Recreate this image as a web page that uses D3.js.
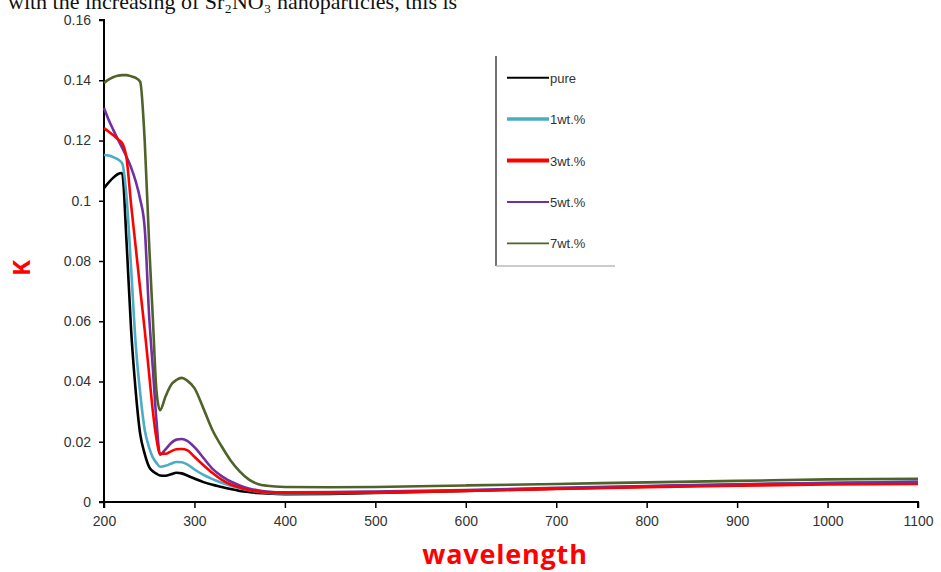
<!DOCTYPE html>
<html><head><meta charset="utf-8">
<script src="https://cdn.jsdelivr.net/npm/d3@7"></script>
<style>body{margin:0;background:#fff;overflow:hidden}svg{display:block}</style>
</head><body>
<script>
const wavelengths = [200,205,210,215,220,225,230,235,240,245,250,254,258,262,268,274,280,286,292,300,310,320,330,340,350,360,370,380,400,450,500,600,700,800,900,1000,1100];
const pure  = [.1042,.1060,.1076,.1088,.1092,.0860,.0570,.0370,.0226,.0160,.0116,.0102,.0094,.0088,.0087,.0092,.0097,.0095,.0088,.0078,.0066,.0057,.0050,.0043,.0037,.0033,.0030,.0028,.0026,.0027,.0030,.0037,.0044,.0051,.0057,.0062,.0065];
const wt1   = [.1152,.1150,.1145,.1138,.1125,.1010,.0775,.0526,.0362,.0240,.0180,.0148,.0130,.0117,.0120,.0127,.0133,.0132,.0125,.0108,.0090,.0076,.0064,.0054,.0046,.0039,.0034,.0031,.0028,.0029,.0032,.0038,.0045,.0052,.0058,.0064,.0068];
const wt3   = [.1241,.1230,.1218,.1205,.1192,.1140,.0986,.0848,.0707,.0571,.0422,.0302,.0210,.0160,.0160,.0168,.0175,.0176,.0172,.0150,.0122,.0096,.0074,.0058,.0048,.0040,.0035,.0032,.0030,.0030,.0032,.0037,.0043,.0049,.0054,.0058,.0060];
const wt5   = [.1308,.1270,.1237,.1206,.1176,.1145,.1110,.1065,.1005,.0910,.0614,.0443,.0270,.0157,.0175,.0195,.0207,.0209,.0203,.0182,.0146,.0110,.0086,.0068,.0055,.0045,.0039,.0035,.0032,.0033,.0035,.0040,.0047,.0053,.0059,.0063,.0067];
const wt7   = [.1391,.1402,.1410,.1415,.1417,.1417,.1413,.1408,.1395,.1200,.0850,.0610,.0370,.0305,.0350,.0388,.0405,.0412,.0403,.0378,.0310,.0238,.0185,.0138,.0102,.0075,.0060,.0054,.0050,.0049,.0050,.0055,.0060,.0065,.0070,.0075,.0077];
const seriesNames = ["pure","1wt.%","3wt.%","5wt.%","7wt.%"];
const seriesColors = ["#000000","#4BACC6","#FF0000","#7030A0","#4F6228"];
const yTicks = [0,0.02,0.04,0.06,0.08,0.1,0.12,0.14,0.16];
const yTickLabels = ["0","0.02","0.04","0.06","0.08","0.1","0.12","0.14","0.16"];
const xTicks = [200,300,400,500,600,700,800,900,1000,1100];

const W = 941, H = 572;
const svg = d3.select("body").append("svg").attr("width", W).attr("height", H);

// caption from the source document (cut by the top edge in the reference)
svg.append("text").attr("x", 8).attr("y", 9)
  .attr("font-family", "Liberation Serif, serif").attr("font-size", 22).attr("fill", "#111")
  .text("with the increasing of Sr\u2082NO\u2083 nanoparticles, this is");

const x = d3.scaleLinear().domain([200, 1100]).range([104, 918]);
const y = d3.scaleLinear().domain([0, 0.16]).range([502, 20]);

const yAxis = svg.append("g").attr("transform", "translate(104,0)")
  .call(d3.axisLeft(y).tickValues(yTicks).tickFormat((d, i) => yTickLabels[i]).tickSize(5).tickPadding(8));
yAxis.select(".domain").attr("stroke", "#000").attr("stroke-width", 2).attr("d", "M-5,20H0V502H-5");
const xAxis = svg.append("g").attr("transform", "translate(0,502)")
  .call(d3.axisBottom(x).tickValues(xTicks).tickFormat(d3.format("d")).tickSize(6).tickPadding(8));
xAxis.select(".domain").attr("stroke", "#000").attr("stroke-width", 2).attr("d", "M104,6V0H918V6");
[yAxis, xAxis].forEach(a => {
  a.selectAll(".tick line").attr("stroke", "#000").attr("stroke-width", 1.5);
  a.selectAll(".tick text").attr("font-family", "Liberation Sans, Arial, sans-serif").attr("font-size", 14).attr("fill", "#333");
});

const allSeries = [pure, wt1, wt3, wt5, wt7];
const line = d3.line().x((d, i) => x(wavelengths[i])).y(d => y(d)).curve(d3.curveMonotoneX);
[0,1,3,2,4].forEach(k => {
  svg.append("path").datum(allSeries[k]).attr("d", line)
    .attr("fill", "none").attr("stroke", seriesColors[k]).attr("stroke-width", 2.6)
    .attr("stroke-linejoin", "round");
});

// axis titles
svg.append("text").attr("transform", "translate(30,268) rotate(-90)").attr("text-anchor", "middle")
  .attr("font-family", "Open Sans, sans-serif").attr("font-weight", "bold").attr("font-size", 24).attr("fill", "#FF0000").text("K");
svg.append("text").attr("x", 505).attr("y", 564).attr("text-anchor", "middle")
  .attr("font-family", "Open Sans, sans-serif").attr("font-weight", "bold").attr("font-size", 27)
  .attr("letter-spacing", 0.8).attr("fill", "#FF0000").text("wavelength");

// legend
const lg = svg.append("g");
lg.append("line").attr("x1", 496).attr("x2", 496).attr("y1", 56).attr("y2", 266).attr("stroke", "#444").attr("stroke-width", 1.5);
lg.append("line").attr("x1", 496).attr("x2", 615).attr("y1", 266).attr("y2", 266).attr("stroke", "#bbb").attr("stroke-width", 1.5);
const legW = [2, 3.5, 4, 2, 1.8];
const legY = d3.scaleBand().domain(seriesNames).range([57, 264]);
seriesNames.forEach((n, i) => {
  const cy = legY(n) + legY.bandwidth() / 2;
  lg.append("line").attr("x1", 507).attr("x2", 549).attr("y1", cy).attr("y2", cy)
    .attr("stroke", seriesColors[i]).attr("stroke-width", legW[i]);
  lg.append("text").attr("x", 550).attr("y", cy + 5).attr("font-family", "Liberation Sans, Arial, sans-serif")
    .attr("font-size", 13).attr("fill", "#333").text(n);
});
</script>
</body></html>
